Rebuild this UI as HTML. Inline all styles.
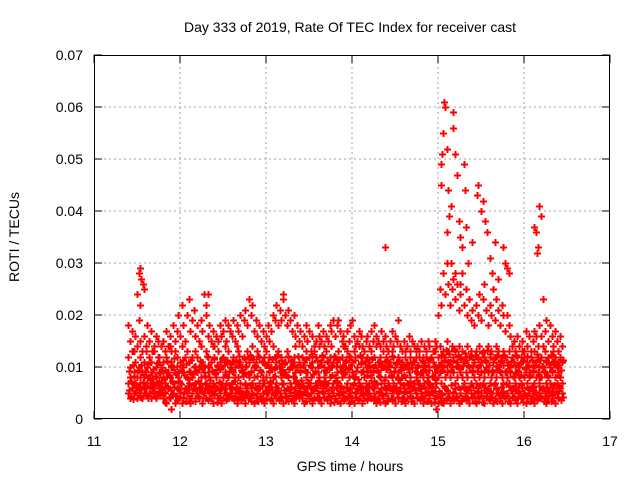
<!DOCTYPE html>
<html><head><meta charset="utf-8"><style>
html,body{margin:0;padding:0;background:#fff;}
svg{display:block;font-family:"Liberation Sans",sans-serif;}
</style></head><body>
<svg id="chart" width="640" height="480" viewBox="0 0 640 480">
<text x="350" y="32" text-anchor="middle" font-size="14">Day 333 of 2019, Rate Of TEC Index for receiver cast</text>
<text x="350" y="471" text-anchor="middle" font-size="14">GPS time / hours</text>
<text x="19" y="237" text-anchor="middle" font-size="14" transform="rotate(-90 19 237)">ROTI / TECUs</text>
<g id="grid"></g><g id="marks"></g><g id="axes"></g>
</svg>
<script>
// values in units of 0.001 TECU/s
const SCALE = 1000;
const xTicks = [11,12,13,14,15,16,17];
const yTicks = [0,0.01,0.02,0.03,0.04,0.05,0.06,0.07];
const yTickLabels = ["0","0.01","0.02","0.03","0.04","0.05","0.06","0.07"];
const times = [
11.40,11.42,11.44,11.46,11.48,11.50,11.52,11.54,11.56,11.58,11.60,11.62,11.64,11.66,11.68,11.70,11.72,11.74,11.76,11.78,
11.80,11.82,11.84,11.86,11.88,11.90,11.92,11.94,11.96,11.98,12.00,12.02,12.04,12.06,12.08,12.10,12.12,12.14,12.16,12.18,
12.20,12.22,12.24,12.26,12.28,12.30,12.32,12.34,12.36,12.38,12.40,12.42,12.44,12.46,12.48,12.50,12.52,12.54,12.56,12.58,
12.60,12.62,12.64,12.66,12.68,12.70,12.72,12.74,12.76,12.78,12.80,12.82,12.84,12.86,12.88,12.90,12.92,12.94,12.96,12.98,
13.00,13.02,13.04,13.06,13.08,13.10,13.12,13.14,13.16,13.18,13.20,13.22,13.24,13.26,13.28,13.30,13.32,13.34,13.36,13.38,
13.40,13.42,13.44,13.46,13.48,13.50,13.52,13.54,13.56,13.58,13.60,13.62,13.64,13.66,13.68,13.70,13.72,13.74,13.76,13.78,
13.80,13.82,13.84,13.86,13.88,13.90,13.92,13.94,13.96,13.98,14.00,14.02,14.04,14.06,14.08,14.10,14.12,14.14,14.16,14.18,
14.20,14.22,14.24,14.26,14.28,14.30,14.32,14.34,14.36,14.38,14.40,14.42,14.44,14.46,14.48,14.50,14.52,14.54,14.56,14.58,
14.60,14.62,14.64,14.66,14.68,14.70,14.72,14.74,14.76,14.78,14.80,14.82,14.84,14.86,14.88,14.90,14.92,14.94,14.96,14.98,
15.00,15.02,15.04,15.06,15.08,15.10,15.12,15.14,15.16,15.18,15.20,15.22,15.24,15.26,15.28,15.30,15.32,15.34,15.36,15.38,
15.40,15.42,15.44,15.46,15.48,15.50,15.52,15.54,15.56,15.58,15.60,15.62,15.64,15.66,15.68,15.70,15.72,15.74,15.76,15.78,
15.80,15.82,15.84,15.86,15.88,15.90,15.92,15.94,15.96,15.98,16.00,16.02,16.04,16.06,16.08,16.10,16.12,16.14,16.16,16.18,
16.20,16.22,16.24,16.26,16.28,16.30,16.32,16.34,16.36,16.38,16.40,16.42,16.44];
const lowVals = [
5,4,6,5,7,4,5,6,4,5,6,7,5,4,6,5,4,7,5,6,
4,5,3,6,4,2,5,3,6,4,5,3,4,6,5,4,3,5,6,4,
5,4,6,3,5,4,6,5,4,3,5,6,4,5,3,4,6,5,4,5,
6,4,5,3,4,6,5,4,3,5,4,6,5,3,4,5,6,4,5,3,
4,5,6,4,3,5,4,6,5,4,3,5,6,4,5,4,3,6,5,4,
5,4,3,5,6,4,5,3,4,6,5,4,3,5,4,6,5,3,4,5,
4,6,5,3,4,5,4,6,3,5,4,3,5,6,4,5,3,4,6,5,
5,4,6,5,3,4,5,6,4,3,5,4,6,5,4,3,5,4,6,4,
5,3,4,6,5,4,3,5,4,6,5,3,4,5,6,4,3,5,4,2,
3,4,5,3,6,4,5,3,4,5,6,4,3,5,4,6,5,4,3,5,
4,5,3,6,4,5,4,3,5,6,4,5,3,4,6,5,4,3,5,4,
5,4,3,5,6,4,3,5,4,6,5,3,4,5,4,6,3,5,4,5,
4,6,5,3,4,5,6,4,3,5,4,6,5];
const midVals = [
7,8,6,9,7,8,6,7,9,8,6,7,8,9,7,6,8,7,9,6,
8,7,9,6,8,10,7,9,6,8,7,10,9,6,8,7,9,8,6,7,
9,7,8,6,10,7,9,8,6,7,9,8,10,7,6,8,9,7,8,6,
7,9,8,6,8,7,10,9,7,6,8,9,7,8,10,6,7,9,8,7,
8,6,9,7,8,10,7,6,9,8,7,9,6,8,7,10,8,9,7,6,
9,7,6,8,9,7,8,10,6,7,9,8,7,6,8,9,7,8,10,7,
8,9,7,6,8,10,9,7,8,6,9,7,8,10,7,9,6,8,7,9,
7,8,9,6,7,9,8,7,10,8,6,7,9,8,7,6,8,9,7,8,
6,8,7,9,8,6,7,8,9,7,6,8,7,9,8,7,6,8,9,7,
8,9,7,10,8,9,11,8,10,9,7,8,10,9,8,7,9,8,10,7,
9,8,7,10,8,9,7,8,10,9,7,8,9,7,8,10,9,8,7,9,
8,7,9,6,8,7,9,8,7,6,8,9,7,8,6,9,7,8,9,7,
8,6,9,7,8,7,9,6,8,7,9,8,7];
const highVals = [
12,10,13,9,11,14,10,12,9,11,13,10,12,11,9,13,10,12,11,10,
11,13,12,9,14,11,10,13,12,9,11,14,10,12,13,11,9,12,10,13,
12,10,14,11,9,13,12,10,11,14,12,9,13,11,10,12,14,11,13,10,
11,12,10,14,13,11,9,12,10,13,11,12,14,10,11,13,12,9,11,12,
13,11,12,10,14,12,11,13,10,12,9,11,13,12,10,11,12,14,10,11,
10,12,11,13,9,12,10,11,13,12,10,14,11,12,10,13,11,12,14,11,
12,11,13,10,12,14,11,13,10,12,11,13,12,10,14,11,12,13,10,12,
11,13,10,12,14,11,12,10,13,11,12,10,11,13,12,10,11,12,10,11,
10,12,11,9,12,10,11,13,10,12,9,11,10,12,11,10,12,11,13,10,
12,14,11,13,12,15,13,11,14,12,13,11,14,12,13,11,12,14,12,13,
12,11,13,12,14,11,13,12,11,14,12,13,11,12,14,13,11,12,13,12,
11,13,10,12,11,9,12,10,11,13,12,10,11,9,12,10,13,11,12,10,
12,10,13,11,12,10,11,13,12,10,11,12,11];
const peakVals = [
18,15,17,13,16,14,19,15,13,16,14,18,15,17,13,14,16,15,12,14,
15,13,17,14,16,13,18,15,17,20,16,22,18,15,20,23,17,19,21,16,
18,15,19,17,24,20,16,18,15,17,14,16,15,18,16,17,19,15,18,17,
16,19,15,18,17,20,16,19,21,18,23,20,22,17,19,16,18,15,17,14,
16,18,15,17,20,19,22,18,21,19,23,20,18,21,19,17,20,16,18,15,
17,14,16,18,15,17,13,16,14,15,18,16,15,17,14,16,15,18,17,19,
16,18,19,17,15,16,14,17,15,18,19,16,14,15,17,16,14,13,15,16,
14,17,15,18,16,15,14,17,15,16,14,13,15,17,14,16,15,19,14,13,
15,13,14,16,13,15,14,12,14,13,15,12,14,13,15,14,12,13,15,14,
20,25,22,28,24,30,26,22,25,27,23,26,21,24,28,22,25,20,23,19,
21,18,22,20,24,19,23,26,21,18,22,20,25,19,23,21,18,22,20,17,
20,18,16,14,15,13,16,14,12,15,13,17,14,16,13,15,17,16,14,18,
16,14,17,19,15,18,16,14,17,15,13,16,14];
// second satellite group, sampled half an epoch later (values in 0.0001 TECU/s)
const groupBLow = [
55,45,38,68,52,61,43,57,72,64,49,41,63,54,71,44,66,53,47,62,
51,33,64,42,56,47,61,44,36,58,67,43,52,35,63,57,41,66,34,55,
45,62,53,41,67,56,37,63,51,46,64,33,55,42,68,57,36,47,65,43,
58,36,62,44,53,37,46,65,54,43,66,35,47,61,56,34,45,63,36,54,
52,64,37,55,46,61,53,36,44,67,56,43,35,57,62,36,51,45,66,53,
47,63,52,34,46,64,37,55,61,43,36,65,54,42,66,37,45,56,62,33,
61,35,47,63,54,36,62,45,56,34,66,52,43,36,55,63,47,51,37,64,
44,61,36,43,67,54,33,46,62,55,35,64,41,37,56,61,43,53,34,65,
36,53,66,45,34,62,55,43,67,36,44,63,52,35,47,66,54,33,61,45,
53,32,46,63,37,55,43,66,51,36,44,62,57,34,63,45,37,56,64,43,
62,35,54,45,66,33,56,61,44,37,53,42,65,57,34,46,62,53,45,67,
34,63,55,43,36,62,54,45,66,33,46,61,57,35,64,43,52,36,63,44,
56,35,45,62,53,34,47,65,54,43,61,36,42];
const groupBMid = [
92,74,103,83,66,95,81,104,72,93,85,106,77,64,96,83,107,73,88,94,
76,94,112,85,103,74,118,86,102,73,95,113,84,106,77,92,114,87,101,93,
74,112,96,104,83,121,102,75,93,115,86,104,72,97,118,103,84,113,92,105,
93,74,113,104,122,95,83,116,102,86,124,93,115,104,82,121,94,112,75,103,
104,92,74,115,96,83,123,102,114,93,105,84,122,96,113,82,104,73,121,95,
75,103,94,116,72,104,122,86,93,114,74,103,124,95,73,112,96,104,85,121,
102,74,115,93,104,86,113,96,122,104,83,114,92,76,123,105,93,112,84,103,
94,116,73,104,95,83,112,104,75,96,114,103,84,122,93,105,76,113,94,102,
84,103,96,74,105,112,93,75,104,86,113,95,104,73,94,116,83,102,76,95,
104,123,95,114,132,103,125,94,113,134,102,124,96,115,104,126,113,104,122,95,
103,124,92,115,104,126,93,114,132,103,125,94,116,102,123,95,114,103,124,93,
104,95,112,83,104,123,92,105,84,113,96,122,104,85,113,94,103,125,83,114,
102,93,114,85,106,123,94,112,103,84,104,95,113];

const spikeTimes = [11.50,11.52,11.53,11.54,11.55,11.57,11.58,12.30,12.33,13.20,14.38,
15.03,15.04,15.05,15.06,15.07,15.08,15.10,15.12,15.13,15.15,15.17,15.18,15.20,15.22,15.24,15.26,15.28,15.30,15.31,15.33,15.35,15.40,15.45,15.47,15.50,15.52,15.55,15.57,15.60,15.63,15.66,15.70,15.75,15.78,15.80,15.83,15.10,15.15,15.20,15.25,
16.12,16.14,16.15,16.16,16.18,16.20,16.22];
const spikeVals = [24,28,22,29,27,26,25,22,24,24,33,
45,49,51,55,61,60,52,44,39,41,59,56,51,47,38,35,33,49,44,37,30,34,43,45,40,42,38,36,31,28,34,27,33,30,29,28,36,30,28,26,
37,36,32,33,41,39,23];

const X0=94,X1=610,Y0=419,Y1=55;
const xScale = v => X0 + (v-11)/(17-11)*(X1-X0);
const yScale = v => Y0 - (v-0)/(0.07-0)*(Y0-Y1);
const NS="http://www.w3.org/2000/svg";
const grid=document.getElementById('grid'), marks=document.getElementById('marks'), axes=document.getElementById('axes');
function mk(tag,attrs,parent){const e=document.createElementNS(NS,tag);for(const k in attrs)e.setAttribute(k,attrs[k]);parent.appendChild(e);return e;}

yTicks.forEach((v,i)=>{
  const y=yScale(v);
  if(i>0&&i<yTicks.length-1){const g=mk('line',{x1:X0,x2:X1,y1:y,y2:y,stroke:'#a0a0a0','stroke-dasharray':'2,3','stroke-width':1},grid);
  
  }
  const t=mk('line',{x1:X0,x2:X0+8,y1:y,y2:y,stroke:'#000'},axes);
  
  
  const t2=mk('line',{x1:X1-8,x2:X1,y1:y,y2:y,stroke:'#000'},axes);
  
  
  const l=mk('text',{x:83,y:y+5,'text-anchor':'end','font-size':14},axes);
  l.textContent=yTickLabels[i];
  
  
});
xTicks.forEach((v,i)=>{
  const x=xScale(v);
  if(i>0&&i<xTicks.length-1){const g=mk('line',{x1:x,x2:x,y1:Y0,y2:Y1,stroke:'#a0a0a0','stroke-dasharray':'2,3','stroke-width':1},grid);
  
  }
  const t=mk('line',{x1:x,x2:x,y1:Y0,y2:Y0-8,stroke:'#000'},axes);
  
  
  const t2=mk('line',{x1:x,x2:x,y1:Y1,y2:Y1+8,stroke:'#000'},axes);
  
  
  const l=mk('text',{x:x,y:446,'text-anchor':'middle','font-size':14},axes);
  l.textContent=String(v);
  
  
});
const frame=mk('rect',{x:X0+0.5,y:Y1+0.5,width:X1-X0-1,height:Y0-Y1-1,fill:'none',stroke:'#000'},axes);



let d='';
function addPoint(t,v){const x=Math.round(xScale(t))+0.5,y=Math.round(yScale(v))+0.5;d+=`M${x-3.5} ${y}h7M${x} ${y-3.5}v7`;}
[lowVals,midVals,highVals,peakVals].forEach(arr=>{const n=Math.min(arr.length,times.length);for(let i=0;i<n;i++)addPoint(times[i],arr[i]/SCALE);});
[groupBLow,groupBMid].forEach(arr=>{const n=Math.min(arr.length,times.length);for(let i=0;i<n;i++)addPoint(times[i]+0.01,arr[i]/(SCALE*10));});
for(let i=0;i<Math.min(spikeTimes.length,spikeVals.length);i++)addPoint(spikeTimes[i],spikeVals[i]/SCALE);
const p=mk('path',{d:d,stroke:'#ff0000','stroke-width':1.6,fill:'none','shape-rendering':'crispEdges'},marks);


</script>
</body></html>
